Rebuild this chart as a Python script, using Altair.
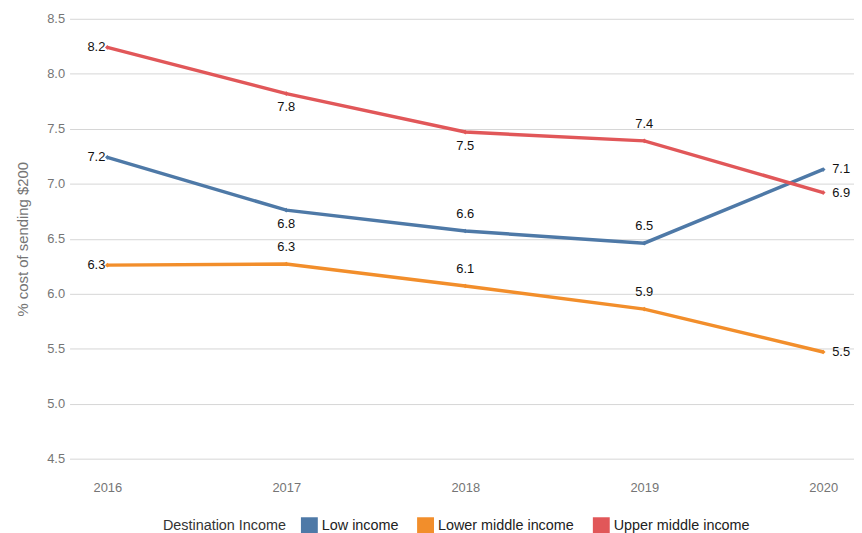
import altair as alt
import pandas as pd

years = [2016, 2017, 2018, 2019, 2020]
series = ["Low income", "Lower middle income", "Upper middle income"]
low_income = [7.24, 6.76, 6.57, 6.46, 7.13]
lower_middle_income = [6.26, 6.27, 6.07, 5.86, 5.47]
upper_middle_income = [8.24, 7.82, 7.47, 7.39, 6.92]
label_side_low = ["left", "below", "above", "above", "right"]
label_side_lower = ["left", "above", "above", "above", "right"]
label_side_upper = ["left", "below", "below", "above", "right"]
colors = ["#4e79a7", "#f28e2b", "#e15759"]
y_ticks = [4.5, 5.0, 5.5, 6.0, 6.5, 7.0, 7.5, 8.0, 8.5]

rows = []
for name, vals, sides in [
    ("Low income", low_income, label_side_low),
    ("Lower middle income", lower_middle_income, label_side_lower),
    ("Upper middle income", upper_middle_income, label_side_upper),
]:
    for yr, v, s in zip(years, vals, sides):
        rows.append({"year": yr, "value": v, "series": name, "side": s})
df = pd.DataFrame(rows)

FONT = "Liberation Sans"

x_enc = alt.X(
    "year:Q",
    scale=alt.Scale(domain=[2015.789, 2020.172], nice=False, zero=False),
    axis=alt.Axis(values=years, format="d", title=None, grid=False, domain=False,
                  ticks=False, labelPadding=23, labelFontSize=13, labelColor="#757575"),
)
y_enc = alt.Y(
    "value:Q",
    scale=alt.Scale(domain=[4.5, 8.5], nice=False, zero=False),
    axis=alt.Axis(values=y_ticks, format=".1f", title="% cost of sending $200",
                  titleFontSize=15, titleFontWeight="normal", titleColor="#757575",
                  labelColor="#757575", labelFontSize=13, domain=False, ticks=False,
                  labelPadding=5, titlePadding=16, gridColor="#d6d6d6"),
)
color_enc = alt.Color(
    "series:N",
    scale=alt.Scale(domain=series, range=colors),
    legend=alt.Legend(
        title="Destination Income", orient="none", legendX=94, legendY=502,
        direction="horizontal", titleOrient="left", symbolType="square",
        symbolSize=289, symbolStrokeWidth=0, symbolOpacity=1,
        labelFontSize=14.5, titleFontSize=14.5, titleFontWeight="normal",
        titleColor="#333333", labelColor="#222222", columnPadding=18,
        labelOffset=4, titlePadding=14,
    ),
)

base = alt.Chart(df)
lines = base.mark_line(strokeWidth=3.5).encode(x=x_enc, y=y_enc, color=color_enc)
points = base.mark_point(filled=True, size=22, shape="diamond", opacity=1).encode(
    x="year:Q", y="value:Q", color=alt.Color("series:N", legend=None)
)

def labels(side, **kw):
    return base.transform_filter(alt.datum.side == side).mark_text(
        fontSize=13, color="#111111", font=FONT, **kw
    ).encode(x="year:Q", y="value:Q", text=alt.Text("value:Q", format=".1f"))

lab_left = labels("left", align="right", baseline="middle", dx=-2)
lab_right = labels("right", align="left", baseline="middle", dx=9)
lab_above = labels("above", align="center", baseline="middle", dy=-17)
lab_below = labels("below", align="center", baseline="middle", dy=14)

chart = alt.layer(lines, points, lab_left, lab_right, lab_above, lab_below).properties(
    width=790, height=443,
    padding={"left": 7, "top": 3, "right": 0, "bottom": 0},
).configure(font=FONT).configure_view(stroke=None)

chart.save("out.html", embed_options={"renderer": "svg", "actions": False})
